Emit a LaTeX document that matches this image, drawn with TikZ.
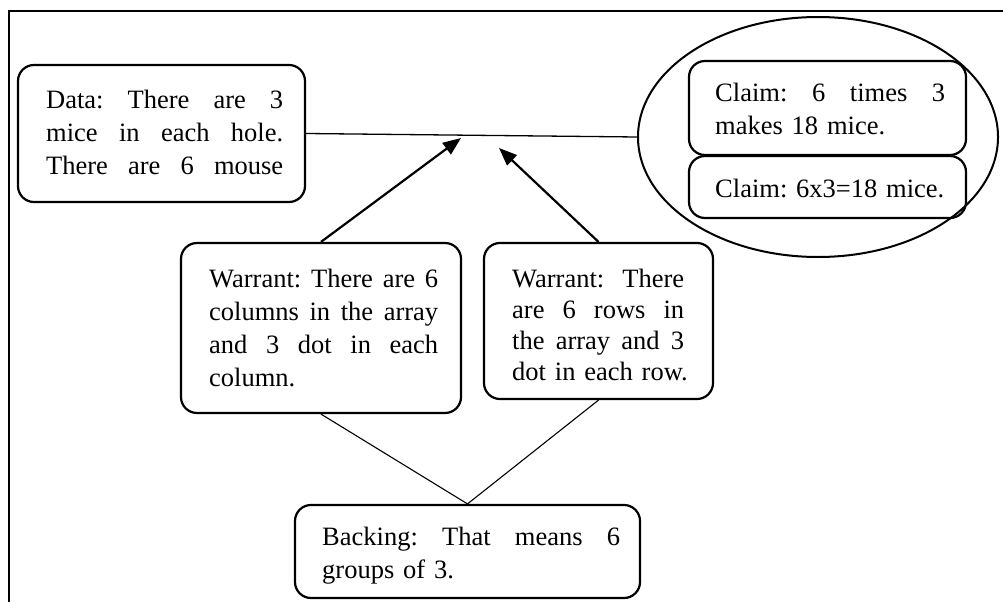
\documentclass[tikz,border=0pt]{standalone}
\usepackage{fontspec}
\setmainfont{Liberation Serif}
\usetikzlibrary{shapes.geometric,arrows.meta}

% a line whose interword spaces stretch to the given width
% (the font's own stretchable space is restored inside the box)
\newcommand{\jline}[2]{\makebox[#1][s]{\spaceskip=0pt\xspaceskip=0pt #2}}

\begin{document}
\frenchspacing
\begin{tikzpicture}[x=1pt,y=-1pt,
  box/.style={draw, line width=2.2pt, rounded corners=16pt, inner sep=0pt},
  oval/.style={draw, ellipse, line width=2pt, inner sep=0pt,
    minimum width=360pt, minimum height=240pt},
  txt/.style={anchor=north west, inner sep=0pt, align=left, text width=320pt,
    font=\fontsize{26.5pt}{33pt}\selectfont, execute at begin node=\strut},
  txtb/.style={txt, font=\fontsize{26.5pt}{31pt}\selectfont},
  link/.style={line width=1.1pt},
  support/.style={line width=2.2pt, -{Triangle[length=18pt,width=14pt]}}]

\useasboundingbox (0,0) rectangle (1003,602);
\fill[white] (0,0) rectangle (1003,602);

% frame
\draw[line width=2pt] (1003,11) -- (9,11) -- (9,602);

% boxes
\node[box, minimum width=287pt, minimum height=137pt] (data) at (161.5,133.5) {};
\node[box, minimum width=277pt, minimum height=94pt] (claimA) at (827.5,108) {};
\node[box, minimum width=277pt, minimum height=62pt] (claimB) at (827.5,187) {};
\node[oval] (claims) at (818,137) {};
\node[box, minimum width=280pt, minimum height=170pt] (warrA) at (321,328) {};
\node[box, minimum width=229pt, minimum height=156pt] (warrB) at (598.5,321) {};
\node[box, minimum width=345pt, minimum height=93pt] (back) at (467.5,551.5) {};

% texts
\node[txt] (dataT) at (46,84.9)
  {\jline{237pt}{Data: There are 3}\\\jline{237pt}{mice in each hole.}\\\jline{237pt}{There are 6 mouse}};
\node[txt] (claimAT) at (715,78.4)
  {\jline{230pt}{Claim: 6 times 3}\\makes 18 mice.};
\node[txt] (claimBT) at (715,173.9)
  {Claim: 6x3=18 mice.};
\node[txt] (warrAT) at (209,263.9)
  {\jline{229pt}{Warrant: There are 6}\\\jline{229pt}{columns in the array}\\\jline{229pt}{and 3 dot in each}\\column.};
\node[txtb] (warrBT) at (512,265.3)
  {\jline{172pt}{Warrant: There}\\\jline{172pt}{are 6 rows in}\\\jline{172pt}{the array and 3}\\dot in each row.};
\node[txt] (backT) at (322,521.9)
  {\jline{298pt}{Backing: That means 6}\\groups of 3.};

% connectors
\coordinate (tipA) at (461,138);
\coordinate (tipB) at (499,148);
\draw[line width=1.3pt] (data.east) -- (claims.west);
\draw[support] (warrA.north) -- (tipA);
\draw[support] (warrB.north) -- (tipB);
\draw[link] (warrA.south) -- (back.north);
\draw[link] (warrB.south) -- (back.north);
\end{tikzpicture}
\end{document}
